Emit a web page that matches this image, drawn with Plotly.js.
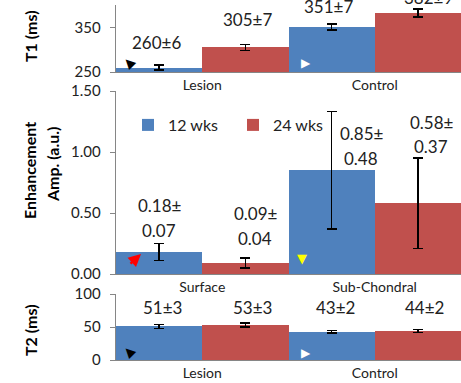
<!DOCTYPE html>
<html><head><meta charset="utf-8">
<script src="https://cdn.plot.ly/plotly-3.0.1.min.js"></script>
<style>html,body{margin:0;padding:0;background:#fff;}#chart{width:461px;height:383px;}</style>
</head><body><div id="chart"></div>
<script>
// ---- data ----
const seriesNames = ['12 wks', '24 wks'];
const catsT1 = ['Lesion', 'Control'];
const catsAmp = ['Surface', 'Sub-Chondral'];
const catsT2 = ['Lesion', 'Control'];
const t1Wk12 = [260, 351];
const t1Wk12Sd = [6, 7];
const t1Wk24 = [305, 382];
const t1Wk24Sd = [7, 9];
const ampWk12 = [0.18, 0.85];
const ampWk12Sd = [0.07, 0.48];
const ampWk24 = [0.09, 0.58];
const ampWk24Sd = [0.04, 0.37];
const t2Wk12 = [51, 43];
const t2Wk12Sd = [3, 2];
const t2Wk24 = [53, 44];
const t2Wk24Sd = [3, 2];
const t1Ticks = [250, 350];
const ampTicks = [0, 0.5, 1.0, 1.5];
const ampTickText = ['0.00', '0.50', '1.00', '1.50'];
const t2Ticks = [0, 50, 100];

// ---- style / layout ----
const W = 461, H = 383, L = 116;
const BLUE = '#4F81BD', RED = '#C0504D';
const FONT = 'Lato, "Open Sans", sans-serif';
const px = x => (x - L) / (W - L);
const py = y => 1 - y / H;

function bar(x, y, sd, color, name, xa, ya, show) {
  return {
    type: 'bar', x: x, y: y, name: name, xaxis: xa, yaxis: ya,
    marker: {color: color, line: {width: 0}},
    showlegend: show, legendgroup: name,
    error_y: {type: 'data', array: sd, visible: true, color: '#000', thickness: 1.5, width: 5},
    hoverinfo: 'skip'
  };
}

const traces = [
  bar(catsT1, t1Wk12, t1Wk12Sd, BLUE, seriesNames[0], 'x', 'y', false),
  bar(catsT1, t1Wk24, t1Wk24Sd, RED, seriesNames[1], 'x', 'y', false),
  bar(catsAmp, ampWk12, ampWk12Sd, BLUE, seriesNames[0], 'x2', 'y2', true),
  bar(catsAmp, ampWk24, ampWk24Sd, RED, seriesNames[1], 'x2', 'y2', true),
  bar(catsT2, t2Wk12, t2Wk12Sd, BLUE, seriesNames[0], 'x3', 'y3', false),
  bar(catsT2, t2Wk24, t2Wk24Sd, RED, seriesNames[1], 'x3', 'y3', false)
];

const fmt = (m, s, d) => m.toFixed(d) + '±' + s.toFixed(d);
const annots = [];
function lab(text, xpx, ypx, size) {
  annots.push({text: text, xref: 'paper', yref: 'paper', x: px(xpx), y: py(ypx),
    xanchor: 'center', yanchor: 'middle', showarrow: false,
    font: {family: FONT, size: size || 17, color: '#222'}});
}
// T1 labels
const t1LabPos = [[156, 42], [328, 7], [247, 19], [428, -3]];
lab(fmt(t1Wk12[0], t1Wk12Sd[0], 0), ...t1LabPos[0]);
lab(fmt(t1Wk12[1], t1Wk12Sd[1], 0), ...t1LabPos[1]);
lab(fmt(t1Wk24[0], t1Wk24Sd[0], 0), ...t1LabPos[2]);
lab(fmt(t1Wk24[1], t1Wk24Sd[1], 0), ...t1LabPos[3]);
// Amp labels (two lines)
const ampLabPos = [[159, 205, 230], [361, 133, 158], [255, 213, 238], [431, 122, 146]];
const ampVals = [[ampWk12[0], ampWk12Sd[0]], [ampWk12[1], ampWk12Sd[1]], [ampWk24[0], ampWk24Sd[0]], [ampWk24[1], ampWk24Sd[1]]];
ampVals.forEach((v, i) => {
  lab(v[0].toFixed(2) + '±', ampLabPos[i][0], ampLabPos[i][1]);
  lab(v[1].toFixed(2), ampLabPos[i][0], ampLabPos[i][2]);
});
// T2 labels
const t2LabPos = [[162, 307], [335, 307], [252, 307], [424, 307]];
lab(fmt(t2Wk12[0], t2Wk12Sd[0], 0), ...t2LabPos[0]);
lab(fmt(t2Wk12[1], t2Wk12Sd[1], 0), ...t2LabPos[1]);
lab(fmt(t2Wk24[0], t2Wk24Sd[0], 0), ...t2LabPos[2]);
lab(fmt(t2Wk24[1], t2Wk24Sd[1], 0), ...t2LabPos[3]);

// y-axis titles
function ytitle(text, xpx, ypx) {
  annots.push({text: text, xref: 'paper', yref: 'paper', x: px(xpx), y: py(ypx),
    xanchor: 'center', yanchor: 'middle', showarrow: false, textangle: -90,
    font: {family: FONT, size: 16, color: '#000', weight: 'bold'}});
}
ytitle('<b>T1 (ms)</b>', 30, 36);
ytitle('<b>Enhancement</b>', 29, 171);
ytitle('<b>Amp. (a.u.)</b>', 53, 164);
ytitle('<b>T2 (ms)</b>', 30, 330);

// pointer markers
function glyph(ch, color, xpx, ypx, ang, size) {
  annots.push({text: ch, xref: 'paper', yref: 'paper', x: px(xpx), y: py(ypx),
    xanchor: 'center', yanchor: 'middle', showarrow: false, textangle: ang,
    font: {family: 'DejaVu Sans', size: size, color: color}});
}
glyph('▲', '#000', 128, 62, -45, 13);
glyph('▶', '#fff', 306, 63, 0, 12);
glyph('▼', '#ff0', 302, 258, 0, 13);
glyph('▲', '#000', 128, 351, -45, 13);
glyph('▶', '#fff', 306, 353, 0, 12);
annots.push({text: '', xref: 'paper', yref: 'paper', axref: 'pixel', ayref: 'pixel',
  x: px(141), y: py(254), ax: -12, ay: 11, showarrow: true, arrowhead: 2,
  arrowsize: 1, arrowwidth: 2.5, arrowcolor: '#f00'});

const yBase = {showline: true, linecolor: '#868686', linewidth: 1.3, ticks: 'outside',
  ticklen: 5, tickcolor: '#868686', showgrid: false, zeroline: false, fixedrange: true,
  tickfont: {family: FONT, size: 15, color: '#222'}, ticklabelstandoff: 6};
const xBase = {type: 'category', showline: true, linecolor: '#868686', linewidth: 1.3,
  ticks: '', showgrid: false, zeroline: false, range: [-0.5, 1.5], fixedrange: true,
  tickfont: {family: FONT, size: 14, color: '#222'}};

const layout = {
  width: W, height: H,
  margin: {l: L, r: 0, t: 0, b: 0},
  paper_bgcolor: '#fff', plot_bgcolor: '#fff',
  barmode: 'group', bargap: 0, bargroupgap: 0,
  showlegend: true,
  legend: {orientation: 'h', x: px(128), y: py(108), xanchor: 'left', yanchor: 'top',
    font: {family: FONT, size: 16, color: '#222'}, bgcolor: 'rgba(0,0,0,0)',
    entrywidth: 60, itemwidth: 30, traceorder: 'normal'},
  xaxis: Object.assign({}, xBase, {anchor: 'y', domain: [0, 1]}),
  xaxis2: Object.assign({}, xBase, {anchor: 'y2', domain: [0, 1]}),
  xaxis3: Object.assign({}, xBase, {anchor: 'y3', domain: [0, 1]}),
  yaxis: Object.assign({}, yBase, {domain: [py(72), py(5)], range: [250, 400], tickvals: t1Ticks}),
  yaxis2: Object.assign({}, yBase, {domain: [py(274), py(91)], range: [0, 1.5], tickvals: ampTicks, ticktext: ampTickText}),
  yaxis3: Object.assign({}, yBase, {domain: [py(360), py(294)], range: [0, 100], tickvals: t2Ticks}),
  annotations: annots
};

Plotly.newPlot('chart', traces, layout, {displayModeBar: false, staticPlot: true});
</script>
</body></html>
